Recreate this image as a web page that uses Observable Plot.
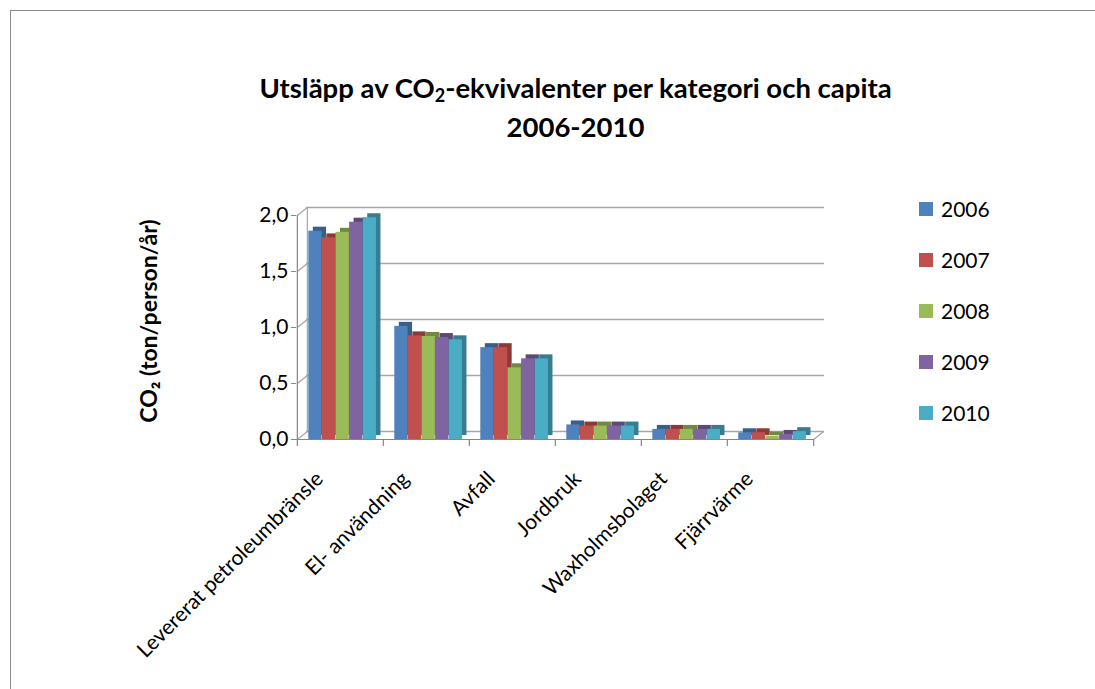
<!DOCTYPE html>
<html>
<head>
<meta charset="utf-8">
<script src="https://cdn.jsdelivr.net/npm/d3@7"></script>
<script src="https://cdn.jsdelivr.net/npm/@observablehq/plot@0.6"></script>
<style>
  body { margin: 0; background: #fff; }
  #wrap { position: relative; width: 1095px; height: 689px; overflow: hidden; font-family: Lato, "Open Sans", sans-serif; color: #000; }
  #border { position: absolute; left: 10px; top: 10px; width: 1200px; height: 800px; border-top: 1px solid #8c8c8c; border-left: 1px solid #8c8c8c; }
  #title { position: absolute; left: 0; width: 1151px; top: 68px; text-align: center; font-weight: bold; font-size: 27.5px; line-height: 39px; }
  #title sub { font-size: 18px; vertical-align: -4px; line-height: 0; }
  #ylabel { position: absolute; left: 148px; top: 321px; transform: translate(-50%, -50%) rotate(-90deg); white-space: nowrap; font-family: Lato, sans-serif; font-weight: bold; font-size: 23px; }
  #chart { position: absolute; left: 0; top: 0; }
  #legend { position: absolute; left: 919px; top: 183px; }
  .item { height: 51px; display: flex; align-items: center; font-size: 21px; }
  .sw { width: 14px; height: 14px; margin-right: 8px; }
</style>
</head>
<body>
<div id="wrap">
  <div id="border"></div>
  <div id="title">Utsläpp av CO<sub>2</sub>-ekvivalenter per kategori och capita<br>2006-2010</div>
  <div id="ylabel">CO₂ (ton/person/år)</div>
  <div id="chart"></div>
  <div id="legend"></div>
</div>
<script>
const categories = ["Levererat petroleumbränsle", "El- användning", "Avfall", "Jordbruk", "Waxholmsbolaget", "Fjärrvärme"];
const years = ["2006", "2007", "2008", "2009", "2010"];
const v2006 = [1.86, 1.01, 0.82, 0.13, 0.09, 0.06];
const v2007 = [1.80, 0.925, 0.82, 0.12, 0.09, 0.06];
const v2008 = [1.85, 0.92, 0.64, 0.12, 0.09, 0.03];
const v2009 = [1.94, 0.91, 0.72, 0.12, 0.09, 0.045];
const v2010 = [1.98, 0.89, 0.72, 0.12, 0.09, 0.07];
const colors = ["#4F81BD", "#C0504D", "#9BBB59", "#8064A2", "#4BACC6"];
const yTicks = [0, 0.5, 1, 1.5, 2];

const series = [v2006, v2007, v2008, v2009, v2010];
const data = years.flatMap((year, i) => categories.map((category, j) => ({category, year, value: series[i][j]})));

const W = 1095, H = 689, mL = 296, mR = 281, mT = 215, mB = 250;
const step = (W - mL - mR) / categories.length;
const barW = 13.6, off = 11.3, depthX = 4.5, depthY = -4;
const gridColor = "#a6a6a6", axisColor = "#868686";
const seg = {draw(context, l) { context.moveTo(0, 0); context.lineTo(0, -l); }};
const fmt = d => d.toFixed(1).replace(".", ",");

const backBars = years.map((yr, i) => Plot.barY(data.filter(d => d.year === yr), {
  x: "category", y: "value", fill: d3.color(colors[i]).darker(0.9).formatHex(),
  insetLeft: off + i * barW, insetRight: step - off - (i + 1) * barW,
  dx: depthX, dy: depthY
}));
const frontBars = years.map((yr, i) => Plot.barY(data.filter(d => d.year === yr), {
  x: "category", y: "value", fill: colors[i],
  insetLeft: off + i * barW, insetRight: step - off - (i + 1) * barW
}));

const chart = Plot.plot({
  width: W, height: H,
  marginLeft: mL, marginRight: mR, marginTop: mT, marginBottom: mB,
  style: {background: "none", fontFamily: "Lato, sans-serif", fontSize: "20px", color: "#000"},
  x: {domain: categories, padding: 0, axis: null},
  y: {domain: [0, 2]},
  marks: [
    Plot.ruleY(yTicks, {dx: 10, dy: -8, stroke: gridColor, strokeWidth: 1.4}),
    Plot.ruleX([categories[0]], {y1: 0, y2: 2, dx: -step / 2 + 10, dy: -8, stroke: gridColor, strokeWidth: 1.2}),
    Plot.vector(yTicks, {x: () => categories[0], y: d => d, dx: -step / 2, length: 12.8, rotate: 51, anchor: "start", shape: seg, stroke: gridColor, strokeWidth: 1.2}),
    Plot.vector([categories[categories.length - 1]], {x: d => d, y: () => 0, dx: step / 2, length: 12.8, rotate: 51, anchor: "start", shape: seg, stroke: gridColor, strokeWidth: 1.2}),
    Plot.ruleX([categories[0]], {y1: 0, y2: 2, dx: -step / 2, stroke: axisColor, strokeWidth: 1.2}),
    Plot.ruleY([0], {stroke: axisColor, strokeWidth: 1.2}),
    Plot.vector(categories, {x: d => d, y: () => 0, dx: -step / 2, length: 6, rotate: 180, anchor: "start", shape: seg, stroke: axisColor, strokeWidth: 1.2}),
    Plot.vector([categories[categories.length - 1]], {x: d => d, y: () => 0, dx: step / 2, length: 6, rotate: 180, anchor: "start", shape: seg, stroke: axisColor, strokeWidth: 1.2}),
    Plot.axisY(yTicks, {tickSize: 5, tickPadding: 3, tickFormat: fmt, label: null, stroke: axisColor, fill: "#000", fontSize: 21}),
    ...backBars,
    ...frontBars,
    Plot.text(categories, {x: d => d, y: () => 0, rotate: -45, textAnchor: "end", dx: -21, dy: 36, fontSize: 21, fill: "#000"})
  ]
});
document.getElementById("chart").appendChild(chart);

const legend = document.getElementById("legend");
years.forEach((yr, i) => {
  const item = document.createElement("div");
  item.className = "item";
  const sw = document.createElement("div");
  sw.className = "sw";
  sw.style.background = colors[i];
  const t = document.createElement("span");
  t.textContent = yr;
  item.appendChild(sw);
  item.appendChild(t);
  legend.appendChild(item);
});
</script>
</body>
</html>
